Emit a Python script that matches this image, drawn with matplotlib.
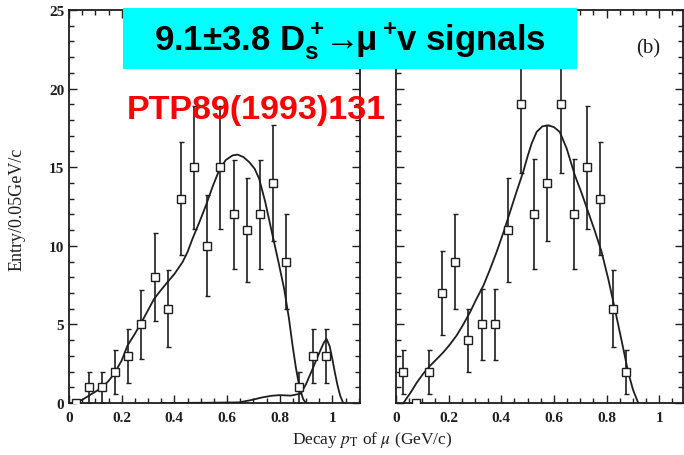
import matplotlib
matplotlib.use('Agg')
import matplotlib.pyplot as plt
from matplotlib.patches import Rectangle
from matplotlib.ticker import MultipleLocator

# --- data ---
# left panel (a): data points (bin centres), entries and errors
x_left = [0.025, 0.075, 0.125, 0.175, 0.225, 0.275, 0.325, 0.375, 0.425, 0.475,
          0.525, 0.575, 0.625, 0.675, 0.725, 0.775, 0.825, 0.875, 0.925, 0.975]
y_left = [0, 1, 1, 2, 3, 5, 8, 6, 13, 15, 10, 15, 12, 11, 12, 14, 9, 1, 3, 3]
err_left = [0, 1.0, 1.0, 1.4, 1.7, 2.2, 2.8, 2.45, 3.6, 3.9,
            3.2, 3.9, 3.45, 3.3, 3.45, 3.7, 3.0, 1.0, 1.7, 1.7]

# left panel: signal fit curve
fit_left_x = [0.015, 0.05, 0.076, 0.10, 0.127, 0.15, 0.171, 0.20, 0.222, 0.25,
              0.272, 0.30, 0.323, 0.35, 0.374, 0.40, 0.431, 0.45, 0.469, 0.495,
              0.520, 0.545, 0.570, 0.595, 0.621, 0.640, 0.662, 0.684, 0.705,
              0.722, 0.745, 0.773, 0.795, 0.817, 0.835, 0.849, 0.862, 0.874,
              0.889, 0.899]
fit_left_y = [0.0, 0.2, 0.47, 0.72, 1.0, 1.4, 1.85, 2.7, 3.65, 4.4,
              5.03, 5.9, 6.62, 7.2, 7.69, 8.2, 8.96, 9.6, 10.45, 11.5,
              12.57, 13.75, 14.8, 15.45, 15.75, 15.8, 15.65, 15.33, 14.9,
              14.27, 12.8, 10.66, 9.0, 7.26, 5.4, 3.65, 2.2, 1.1,
              0.25, 0.0]

# left panel: background curve with peak near 1 GeV/c
bkg_left_x = [0.35, 0.45, 0.55, 0.646, 0.69, 0.735, 0.77, 0.798, 0.843, 0.88,
              0.90, 0.925, 0.943, 0.957, 0.968, 0.978, 0.99, 1.0, 1.01, 1.02,
              1.03, 1.04]
bkg_left_y = [0.0, 0.01, 0.02, 0.04, 0.18, 0.36, 0.46, 0.5, 0.47, 0.6,
              1.2, 2.17, 2.9, 3.44, 3.85, 4.07, 3.6, 2.8, 1.9, 1.1,
              0.45, 0.05]

# right panel (b)
x_right = [0.025, 0.075, 0.125, 0.175, 0.225, 0.275, 0.325, 0.375, 0.425,
           0.475, 0.525, 0.575, 0.625, 0.675, 0.725, 0.775, 0.825, 0.875]
y_right = [2, 0, 2, 7, 9, 4, 5, 5, 11, 19, 12, 14, 19, 12, 15, 13, 6, 2]
err_right = [1.4, 0, 1.4, 2.7, 3.0, 2.0, 2.25, 2.25, 3.3, 4.36,
             3.5, 3.7, 4.36, 3.5, 3.9, 3.6, 2.45, 1.4]

fit_right_x = [0.028, 0.055, 0.079, 0.105, 0.13, 0.155, 0.18, 0.205, 0.23, 0.255,
               0.281, 0.305, 0.332, 0.357, 0.382, 0.408, 0.433, 0.458, 0.483,
               0.50, 0.515, 0.534, 0.556, 0.578, 0.60, 0.622, 0.648, 0.679,
               0.705, 0.73, 0.755, 0.781, 0.806, 0.831, 0.857, 0.882, 0.90,
               0.92]
fit_right_y = [0.0, 0.65, 1.3, 1.9, 2.38, 2.8, 3.23, 3.73, 4.29, 4.98,
               5.77, 6.6, 7.47, 8.5, 9.6, 10.85, 12.15, 13.45, 14.7,
               15.7, 16.5, 17.24, 17.6, 17.66, 17.55, 17.24, 16.2, 14.5,
               13.35, 12.15, 10.95, 9.6, 7.9, 6.0, 3.95, 1.95, 0.85,
               0.0]

INK = '#1e1e1e'
SERIF = ['Liberation Serif', 'DejaVu Serif']


def style_axis(ax, xmax, show_ylabels):
    ax.set_xlim(0, xmax)
    ax.set_ylim(0, 25)
    ax.xaxis.set_major_locator(MultipleLocator(0.2))
    ax.xaxis.set_minor_locator(MultipleLocator(0.05))
    ax.yaxis.set_major_locator(MultipleLocator(5))
    ax.yaxis.set_minor_locator(MultipleLocator(1))
    ax.tick_params(which='both', direction='in', top=True, right=True,
                   colors=INK, width=1.0)
    ax.tick_params(which='major', length=6)
    ax.tick_params(which='minor', length=3.5)
    ax.tick_params(axis='x', pad=6)
    if not show_ylabels:
        ax.tick_params(axis='y', labelleft=False)
    for lab in ax.get_xticklabels() + ax.get_yticklabels():
        lab.set_family(SERIF)
        lab.set_fontsize(11)
        lab.set_fontweight('bold')
    ax.xaxis.set_major_formatter(plt.FuncFormatter(lambda v, p: f'{v:g}'))
    for s in ax.spines.values():
        s.set_color(INK)
        s.set_linewidth(1.3)


def draw_points(ax, x, y, err):
    ax.errorbar(x, y, yerr=err, fmt='s', ms=5.5, mfc='white', mec=INK, mew=1.0,
                ecolor=INK, elinewidth=1.2, capsize=1.8, capthick=1.0, zorder=3)


fig = plt.figure(figsize=(6.84, 4.56), dpi=100)
ax_l = fig.add_axes([69 / 684, 1 - 404 / 456, 291 / 684, 393 / 456])
ax_r = fig.add_axes([396 / 684, 1 - 404 / 456, 287 / 684, 393 / 456])

ax_l.plot(fit_left_x, fit_left_y, color=INK, lw=1.3, zorder=2)
ax_l.plot(bkg_left_x, bkg_left_y, color=INK, lw=1.3, zorder=2)
draw_points(ax_l, x_left, y_left, err_left)
style_axis(ax_l, 1.105, True)

ax_r.plot(fit_right_x, fit_right_y, color=INK, lw=1.3, zorder=2)
draw_points(ax_r, x_right, y_right, err_right)
style_axis(ax_r, 1.09, False)

# axis titles
fig.text(17 / 684, 1 - 209 / 456, 'Entry/0.05GeV/c', rotation=90,
         ha='center', va='center', family=SERIF, fontsize=13, color=INK)
fig.text(372 / 684, 1 - 440 / 456, r'Decay $p_{\rm T}$ of $\mu$ (GeV/c)',
         ha='center', va='center', family=SERIF, fontsize=12.5, color=INK,
         math_fontfamily='stix')
fig.text(648 / 684, 1 - 49 / 456, '(b)', ha='center', va='center',
         family=SERIF, fontsize=15, color=INK)

# cyan banner with signal count
plt.rcParams['mathtext.fontset'] = 'custom'
plt.rcParams['mathtext.rm'] = 'Liberation Sans:bold'
plt.rcParams['mathtext.it'] = 'Liberation Sans:bold'
plt.rcParams['mathtext.bf'] = 'Liberation Sans:bold'
fig.patches.append(Rectangle((123 / 684, 1 - 70 / 456), 454 / 684, 61 / 456,
                             transform=fig.transFigure, facecolor='#00ffff',
                             edgecolor='none', zorder=5))
fig.text(350 / 684, 1 - 41 / 456,
         r'9.1±3.8 D$_{\rm s}^{\rm +}\!\!{\rightarrow}\!\!{\mu}^{\rm +}\!$v signals',
         ha='center', va='center', family=['Liberation Sans', 'DejaVu Sans'],
         fontweight='bold', fontsize=25, color='black', math_fontfamily='custom',
         zorder=6)

fig.text(127 / 684, 1 - 110 / 456, 'PTP89(1993)131', ha='left', va='center',
         family=['Liberation Sans', 'DejaVu Sans'], fontweight='bold',
         fontsize=24.5, color='#ff0000', zorder=6)

fig.savefig('out.png', dpi=100)
